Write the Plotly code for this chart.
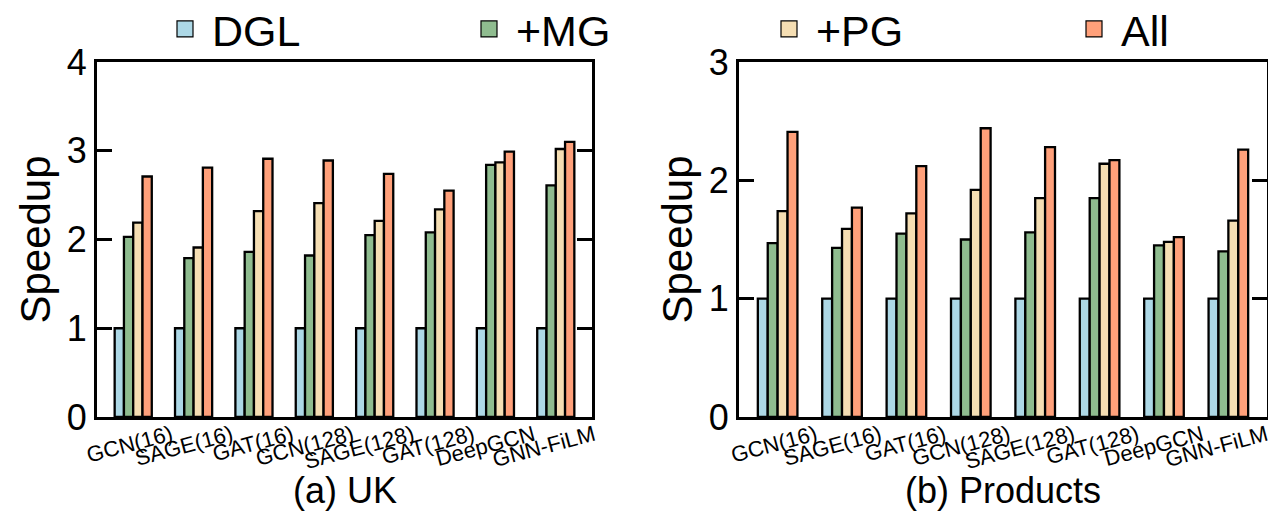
import plotly.graph_objects as go

categories = ["GCN(16)", "SAGE(16)", "GAT(16)", "GCN(128)", "SAGE(128)", "GAT(128)", "DeepGCN", "GNN-FiLM"]
series_names = ["DGL", "+MG", "+PG", "All"]
colors = ["#add8e6", "#8fbc8f", "#f5deb3", "#ffa07a"]

uk_dgl = [1.0, 1.0, 1.0, 1.0, 1.0, 1.0, 1.0, 1.0]
uk_mg = [2.03, 1.79, 1.86, 1.82, 2.05, 2.08, 2.84, 2.61]
uk_pg = [2.19, 1.91, 2.32, 2.41, 2.21, 2.34, 2.87, 3.02]
uk_all = [2.71, 2.81, 2.91, 2.89, 2.74, 2.55, 2.99, 3.10]

pr_dgl = [1.0, 1.0, 1.0, 1.0, 1.0, 1.0, 1.0, 1.0]
pr_mg = [1.47, 1.43, 1.55, 1.50, 1.56, 1.85, 1.45, 1.40]
pr_pg = [1.74, 1.59, 1.72, 1.92, 1.85, 2.14, 1.48, 1.66]
pr_all = [2.41, 1.77, 2.12, 2.44, 2.28, 2.17, 1.52, 2.26]

uk_ticks = [0, 1, 2, 3, 4]
pr_ticks = [0, 1, 2, 3]

FONT = "Liberation Sans, Arial, Helvetica, sans-serif"
W, H = 1276, 520
OFF = 8  # page body margin

def px_x(p):
    return (p - OFF) / W

def px_y(p):
    return 1 - (p - OFF) / H

fig = go.Figure()
uk = [uk_dgl, uk_mg, uk_pg, uk_all]
pr = [pr_dgl, pr_mg, pr_pg, pr_all]
for name, col, vals in zip(series_names, colors, uk):
    fig.add_trace(go.Bar(x=categories, y=vals, name=name, marker=dict(color=col, line=dict(color="black", width=2.3)),
                         xaxis="x", yaxis="y", showlegend=False))
for name, col, vals in zip(series_names, colors, pr):
    fig.add_trace(go.Bar(x=categories, y=vals, name=name, marker=dict(color=col, line=dict(color="black", width=2.3)),
                         xaxis="x2", yaxis="y2", showlegend=False))

# legend entries, each in its own legend box
legend_ids = ["legend", "legend2", "legend3", "legend4"]
legend_x = [158, 462, 762, 1067]
for name, col, lid in zip(series_names, colors, legend_ids):
    fig.add_trace(go.Scatter(x=[None], y=[None], mode="markers", name=name, legend=lid,
                             marker=dict(symbol="square", size=18, color=col, line=dict(color="black", width=1.2)),
                             xaxis="x", yaxis="y", showlegend=True))

legend_style = dict(orientation="h", xanchor="left", y=px_y(29), yanchor="middle",
                    font=dict(family=FONT, size=43, color="black"), itemsizing="trace", itemwidth=44,
                    bgcolor="rgba(0,0,0,0)", borderwidth=0)
legends = {}
for lid, lx in zip(legend_ids, legend_x):
    legends[lid] = dict(x=px_x(lx), **legend_style)

common_x = dict(type="category", range=[-0.6, 7.6], showline=True, linecolor="black", linewidth=3,
                mirror=True, ticks="", tickangle=-15, tickfont=dict(family=FONT, size=22, color="black"),
                ticklabelshift=38, ticklabelstandoff=-6, showgrid=False, zeroline=False)
common_y = dict(showline=True, linecolor="black", linewidth=3, mirror="ticks", ticks="inside", ticklen=15,
                tickwidth=2.5, tickcolor="black", tickfont=dict(family=FONT, size=36, color="black"),
                showgrid=False, zeroline=False,
                title=dict(text="Speedup", font=dict(family=FONT, size=42, color="black"), standoff=4))

fig.update_layout(
    width=W, height=H, margin=dict(l=0, r=0, t=0, b=0, autoexpand=False),
    plot_bgcolor="white", paper_bgcolor="white",
    barmode="group", bargap=0.385, bargroupgap=0,
    font=dict(family=FONT, color="black"),
    xaxis=dict(domain=[px_x(97), px_x(592)], anchor="y", **common_x),
    yaxis=dict(domain=[px_y(417), px_y(62)], anchor="x", range=[0, 4], tickvals=uk_ticks, **common_y),
    xaxis2=dict(domain=[px_x(739), px_x(1267)], anchor="y2", **common_x),
    yaxis2=dict(domain=[px_y(417), px_y(62)], anchor="x2", range=[0, 3], tickvals=pr_ticks, **common_y),
    annotations=[
        dict(text="(a) UK", x=(px_x(97) + px_x(592)) / 2, y=px_y(490), xref="paper", yref="paper",
             showarrow=False, font=dict(family=FONT, size=36, color="black"), xanchor="center", yanchor="middle"),
        dict(text="(b) Products", x=(px_x(739) + px_x(1267)) / 2, y=px_y(490), xref="paper", yref="paper",
             showarrow=False, font=dict(family=FONT, size=36, color="black"), xanchor="center", yanchor="middle"),
    ],
    **legends,
)

fig.write_html("out.html")
